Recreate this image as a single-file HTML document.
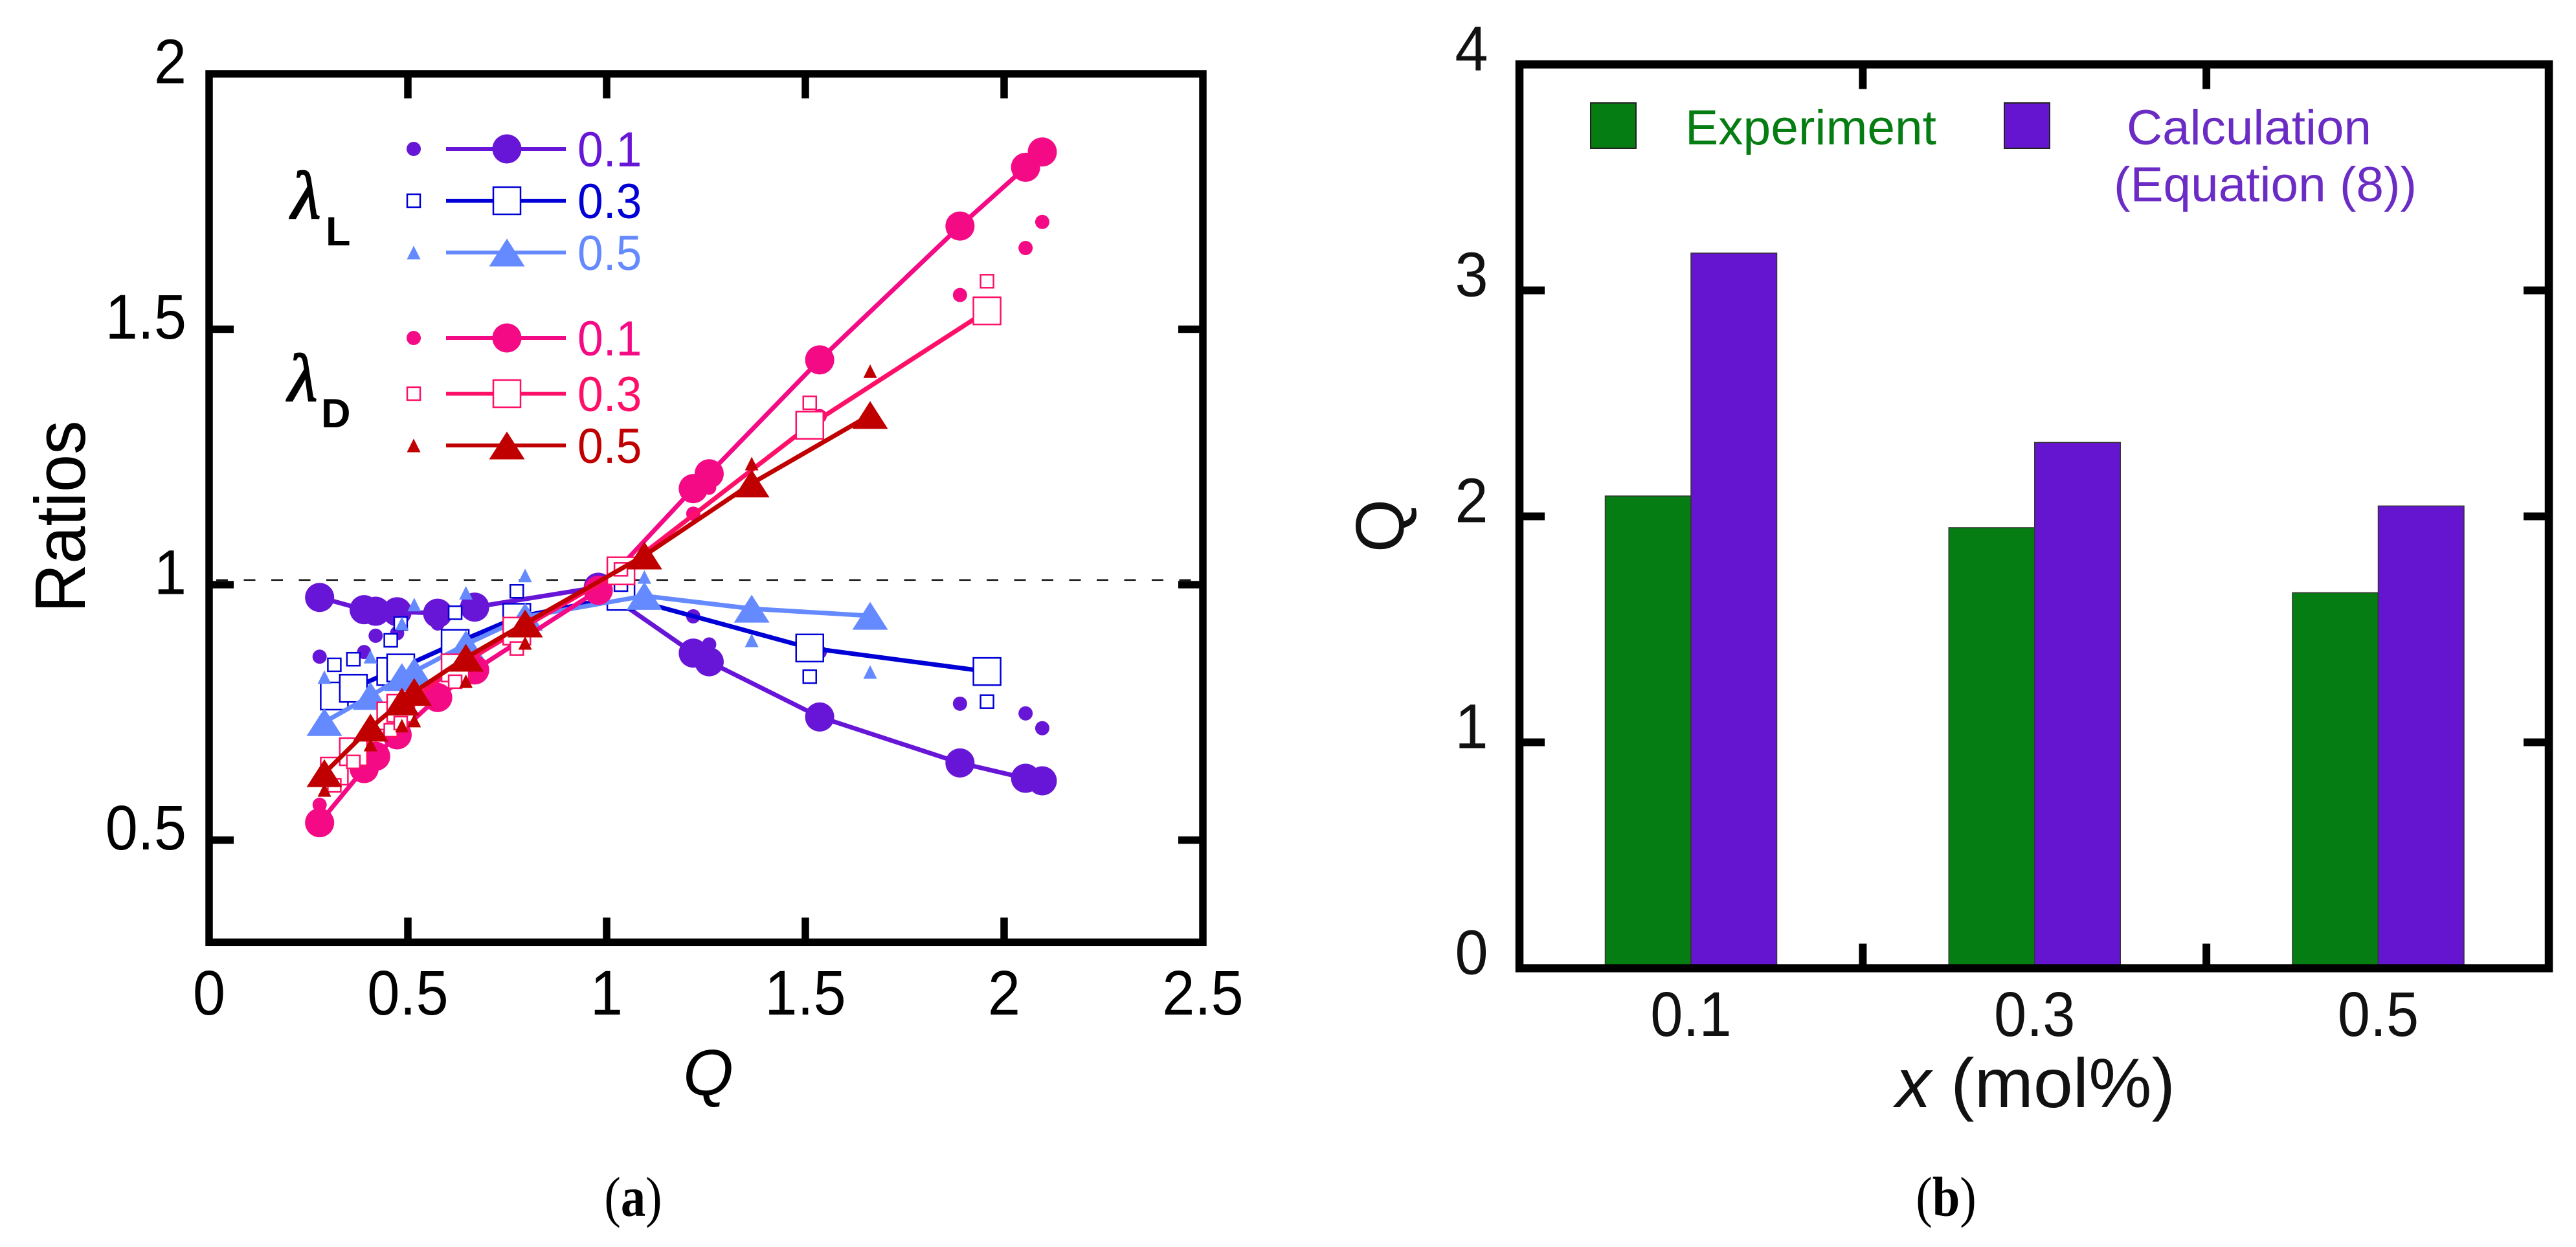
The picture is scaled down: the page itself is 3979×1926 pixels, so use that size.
<!DOCTYPE html>
<html lang="en">
<head>
<meta charset="utf-8">
<title>Ratios versus Q and Q versus x</title>
<style>
html,body{margin:0;padding:0;background:#fff;width:3979px;height:1926px;overflow:hidden}
svg{display:block}
text{font-family:"Liberation Sans",sans-serif}
</style>
</head>
<body>
<svg id="figure" xmlns="http://www.w3.org/2000/svg" width="3979" height="1926" viewBox="0 0 3979 1926">
  <rect x="0" y="0" width="3979" height="1926" fill="#fff"/>
  <g id="panelA"></g>
  <g id="panelB"></g>

  <g>
    <text x="450" y="337" font-size="104" font-style="italic" fill="#000" stroke="#000" stroke-width="2.5" style="font-family:'Liberation Serif',serif">λ</text>
    <text x="503" y="379" font-size="63" font-weight="bold" fill="#000">L</text>
  </g>
  <g>
    <text x="445" y="619" font-size="104" font-style="italic" fill="#000" stroke="#000" stroke-width="2.5" style="font-family:'Liberation Serif',serif">λ</text>
    <text x="496" y="660" font-size="63" font-weight="bold" fill="#000">D</text>
  </g>

  <text font-size="110" fill="#000" text-anchor="middle" textLength="297" lengthAdjust="spacingAndGlyphs" transform="translate(131 798) rotate(-90)">Ratios</text>
  <text x="1094" y="1691" font-size="100" font-style="italic" fill="#000" text-anchor="middle">Q</text>

  <text font-size="87" fill="#000" text-anchor="middle" transform="translate(978 1878) scale(0.88 1)" style="font-family:'Liberation Serif',serif">(<tspan font-weight="bold">a</tspan>)</text>
  <text font-size="87" fill="#000" text-anchor="middle" transform="translate(3006 1878) scale(0.88 1)" style="font-family:'Liberation Serif',serif">(<tspan font-weight="bold">b</tspan>)</text>

  <text font-size="106" fill="#111" text-anchor="middle" transform="translate(2168 812) rotate(-90)">Q</text>
  <text x="2928" y="1710" font-size="108" fill="#111" textLength="432" lengthAdjust="spacingAndGlyphs"><tspan font-style="italic">x</tspan> (mol%)</text>

  <rect x="2457" y="159" width="70" height="70" fill="#067d12" stroke="#222" stroke-width="2"/>
  <text x="2603" y="223" font-size="76" fill="#067d12" textLength="388" lengthAdjust="spacingAndGlyphs">Experiment</text>
  <rect x="3096" y="159" width="70" height="70" fill="#6515d0" stroke="#222" stroke-width="2"/>
  <text x="3285" y="223" font-size="76" fill="#6a2cc4" textLength="378" lengthAdjust="spacingAndGlyphs">Calculation</text>
  <text x="3265" y="311" font-size="76" fill="#6a2cc4" textLength="468" lengthAdjust="spacingAndGlyphs">(Equation (8))</text>
</svg>

<script>
// Panel (a) data: Q values per concentration
const qFor01 = [0.278, 0.390, 0.419, 0.473, 0.575, 0.668, 0.979, 1.218, 1.258, 1.536, 1.889, 2.054, 2.096];
const qFor03 = [0.315, 0.363, 0.457, 0.482, 0.619, 0.774, 1.036, 1.511, 1.957];
const qFor05 = [0.290, 0.406, 0.485, 0.516, 0.646, 0.795, 1.095, 1.365, 1.663];

// Panel (a) data: large markers (connected)
const lambdaL01Large = [0.975, 0.951, 0.948, 0.947, 0.944, 0.956, 0.995, 0.866, 0.849, 0.741, 0.651, 0.621, 0.616];
const lambdaL03Large = [0.782, 0.797, 0.830, 0.837, 0.885, 0.936, 0.977, 0.876, 0.830];
const lambdaL05Large = [0.731, 0.782, 0.819, 0.830, 0.883, 0.937, 0.978, 0.953, 0.939];
const lambdaD01Large = [0.534, 0.640, 0.664, 0.706, 0.779, 0.833, 0.989, 1.188, 1.217, 1.440, 1.702, 1.817, 1.847];
const lambdaD03Large = [0.635, 0.673, 0.743, 0.758, 0.837, 0.909, 1.027, 1.312, 1.536];
const lambdaD05Large = [0.631, 0.720, 0.771, 0.790, 0.857, 0.924, 1.057, 1.198, 1.332];

// Panel (a) data: small markers (unconnected)
const lambdaL01Small = [0.859, 0.868, 0.900, 0.905, 0.924, 0.955, 1.000, 0.938, 0.883, 0.868, 0.767, 0.748, 0.719];
const lambdaL03Small = [0.843, 0.854, 0.891, 0.924, 0.945, 0.987, 1.000, 0.820, 0.771];
const lambdaL05Small = [0.819, 0.859, 0.924, 0.961, 0.984, 1.018, 1.015, 0.891, 0.829];
const lambdaD01Small = [0.569, 0.640, 0.664, 0.706, 0.779, 0.833, 0.990, 1.139, 1.190, 1.330, 1.567, 1.659, 1.710];
const lambdaD03Small = [0.607, 0.653, 0.715, 0.729, 0.810, 0.875, 1.030, 1.356, 1.594];
const lambdaD05Small = [0.598, 0.687, 0.724, 0.734, 0.811, 0.886, 1.060, 1.237, 1.418];

// Panel (a) axes
const xTicksA = [0, 0.5, 1, 1.5, 2, 2.5];
const xTickLabelsA = ['0', '0.5', '1', '1.5', '2', '2.5'];
const yTicksA = [0.5, 1, 1.5, 2];
const yTickLabelsA = ['0.5', '1', '1.5', '2'];
const referenceRatio = [1.009];

// Panel (b) data
const categoriesB = ['0.1', '0.3', '0.5'];
const experimentB = [2.09, 1.95, 1.662];
const calculationB = [3.165, 2.327, 2.046];
const yTicksB = [0, 1, 2, 3, 4];
const yTickLabelsB = ['0', '1', '2', '3', '4'];

// Legend text
const legendLabels = ['0.1', '0.3', '0.5', '0.1', '0.3', '0.5'];

const NS = 'http://www.w3.org/2000/svg';
function el(parent, tag, attrs, text) {
  const n = document.createElementNS(NS, tag);
  for (const k in attrs) n.setAttribute(k, attrs[k]);
  if (text !== undefined) n.textContent = text;
  parent.appendChild(n);
  return n;
}
const squeezed = (x, y, sx) => 'translate(' + x + ' ' + y + ') scale(' + sx + ' 1)';

const xA = v => 323 + v * 614;
const yA = v => 903 - (v - 1) * 789;
const yB = v => 1495.5 - v * 349;
const bandB = i => 2612 + i * 530.75;

function marker(parent, shape, color, cx, cy, big) {
  let n;
  if (shape === 'circle') {
    n = el(parent, 'circle', {cx: cx, cy: cy, r: big ? 22.5 : 11, fill: color});
  } else if (shape === 'square') {
    const s = big ? 42 : 20;
    n = el(parent, 'rect', {x: cx - s / 2, y: cy - s / 2, width: s, height: s, fill: '#fff', stroke: color, 'stroke-width': 2.5});
  } else {
    const w = big ? 55 : 21, h = big ? 43 : 21;
    n = el(parent, 'polygon', {points: (cx - w / 2) + ',' + (cy + h / 2) + ' ' + (cx + w / 2) + ',' + (cy + h / 2) + ' ' + cx + ',' + (cy - h / 2), fill: color});
  }
  return n;
}

/* ---------- panel a ---------- */
const panelA = document.getElementById('panelA');

const dashed = el(panelA, 'line', {x1: 334, x2: 1850, y1: yA(referenceRatio[0]), y2: yA(referenceRatio[0]), stroke: '#111', 'stroke-width': 2.5, 'stroke-dasharray': '18 24.5'});



const seriesA = [
  {key: 'lambda-l-0.1', q: qFor01, big: lambdaL01Large, small: lambdaL01Small, shape: 'circle', color: '#6715d6'},
  {key: 'lambda-l-0.3', q: qFor03, big: lambdaL03Large, small: lambdaL03Small, shape: 'square', color: '#0000d6'},
  {key: 'lambda-l-0.5', q: qFor05, big: lambdaL05Large, small: lambdaL05Small, shape: 'triangle', color: '#6589ff'},
  {key: 'lambda-d-0.1', q: qFor01, big: lambdaD01Large, small: lambdaD01Small, shape: 'circle', color: '#f40a85'},
  {key: 'lambda-d-0.3', q: qFor03, big: lambdaD03Large, small: lambdaD03Small, shape: 'square', color: '#ff1068'},
  {key: 'lambda-d-0.5', q: qFor05, big: lambdaD05Large, small: lambdaD05Small, shape: 'triangle', color: '#c00000'}
];

seriesA.forEach(s => {
  const g = el(panelA, 'g', {});
  
  
  const pts = s.q.map((q, i) => xA(q) + ',' + yA(s.big[i])).join(' ');
  const line = el(g, 'polyline', {points: pts, fill: 'none', stroke: s.color, 'stroke-width': 7});
  
  
  s.q.forEach((q, i) => {
    const m = marker(g, s.shape, s.color, xA(q), yA(s.big[i]), true);
    
    
  });
  s.q.forEach((q, i) => {
    const m = marker(g, s.shape, s.color, xA(q), yA(s.small[i]), false);
    
    
  });
});

/* legend */
const legendRows = [230, 310, 390, 522, 608, 688];
seriesA.forEach((s, i) => {
  const g = el(panelA, 'g', {});
  
  
  const y = legendRows[i];
  marker(g, s.shape, s.color, 639, y, false);
  el(g, 'line', {x1: 689, x2: 874, y1: y, y2: y, stroke: s.color, 'stroke-width': 6});
  marker(g, s.shape, s.color, 783, y, true);
  el(g, 'text', {'font-size': 76, fill: s.color, transform: squeezed(892, y + 27, 0.94)}, legendLabels[i]);
});

/* frame & ticks */
const frameA = el(panelA, 'rect', {x: xA(0), y: yA(2), width: xA(2.5) - xA(0), height: yA(0.3) - yA(2), fill: 'none', stroke: '#000', 'stroke-width': 11.5});



xTicksA.forEach((v, i) => {
  if (v > 0 && v < 2.5) {
    const t1 = el(panelA, 'line', {x1: xA(v), x2: xA(v), y1: yA(2), y2: yA(2) + 38, stroke: '#000', 'stroke-width': 11.5});
    
    
    const t2 = el(panelA, 'line', {x1: xA(v), x2: xA(v), y1: yA(0.3), y2: yA(0.3) - 38, stroke: '#000', 'stroke-width': 11.5});
    
    
  }
  const lab = el(panelA, 'text', {'font-size': 97, fill: '#000', 'text-anchor': 'middle', transform: squeezed(xA(v), 1567, 0.93)}, xTickLabelsA[i]);
  
  
});
yTicksA.forEach((v, i) => {
  if (v < 2) {
    const t1 = el(panelA, 'line', {x1: xA(0), x2: xA(0) + 38, y1: yA(v), y2: yA(v), stroke: '#000', 'stroke-width': 11.5});
    
    
    const t2 = el(panelA, 'line', {x1: xA(2.5), x2: xA(2.5) - 38, y1: yA(v), y2: yA(v), stroke: '#000', 'stroke-width': 11.5});
    
    
  }
  const lab = el(panelA, 'text', {'font-size': 97, fill: '#000', 'text-anchor': 'end', transform: squeezed(288, yA(v) + 14.5, 0.93)}, yTickLabelsA[i]);
  
  
});

/* ---------- panel b ---------- */
const panelB = document.getElementById('panelB');
const barW = 132.5;
categoriesB.forEach((c, i) => {
  const e = el(panelB, 'rect', {x: bandB(i) - barW, y: yB(experimentB[i]), width: barW, height: yB(0) - yB(experimentB[i]), fill: '#067d12', stroke: '#333', 'stroke-width': 1.5});
  
  
  const k = el(panelB, 'rect', {x: bandB(i), y: yB(calculationB[i]), width: barW, height: yB(0) - yB(calculationB[i]), fill: '#6515d0', stroke: '#333', 'stroke-width': 1.5});
  
  
  const lab = el(panelB, 'text', {'font-size': 97, fill: '#111', 'text-anchor': 'middle', transform: squeezed(bandB(i), 1600, 0.93)}, c);
  
  
});

const frameB = el(panelB, 'rect', {x: 2347, y: yB(4), width: 1590, height: yB(0) - yB(4), fill: 'none', stroke: '#000', 'stroke-width': 12.5});



yTicksB.forEach((v, i) => {
  if (v > 0 && v < 4) {
    const t1 = el(panelB, 'line', {x1: 2347, x2: 2386, y1: yB(v), y2: yB(v), stroke: '#000', 'stroke-width': 12});
    
    
    const t2 = el(panelB, 'line', {x1: 3937, x2: 3898, y1: yB(v), y2: yB(v), stroke: '#000', 'stroke-width': 12});
    
    
  }
  const lab = el(panelB, 'text', {'font-size': 97, fill: '#111', 'text-anchor': 'middle', transform: squeezed(2273, yB(v) + 9, 0.95)}, yTickLabelsB[i]);
  
  
});
[0, 1].forEach(i => {
  const x = (bandB(i) + bandB(i + 1)) / 2;
  const t1 = el(panelB, 'line', {x1: x, x2: x, y1: yB(4), y2: yB(4) + 38, stroke: '#000', 'stroke-width': 12});
  
  
  const t2 = el(panelB, 'line', {x1: x, x2: x, y1: yB(0), y2: yB(0) - 38, stroke: '#000', 'stroke-width': 12});
  
  
});
</script>
</body>
</html>
